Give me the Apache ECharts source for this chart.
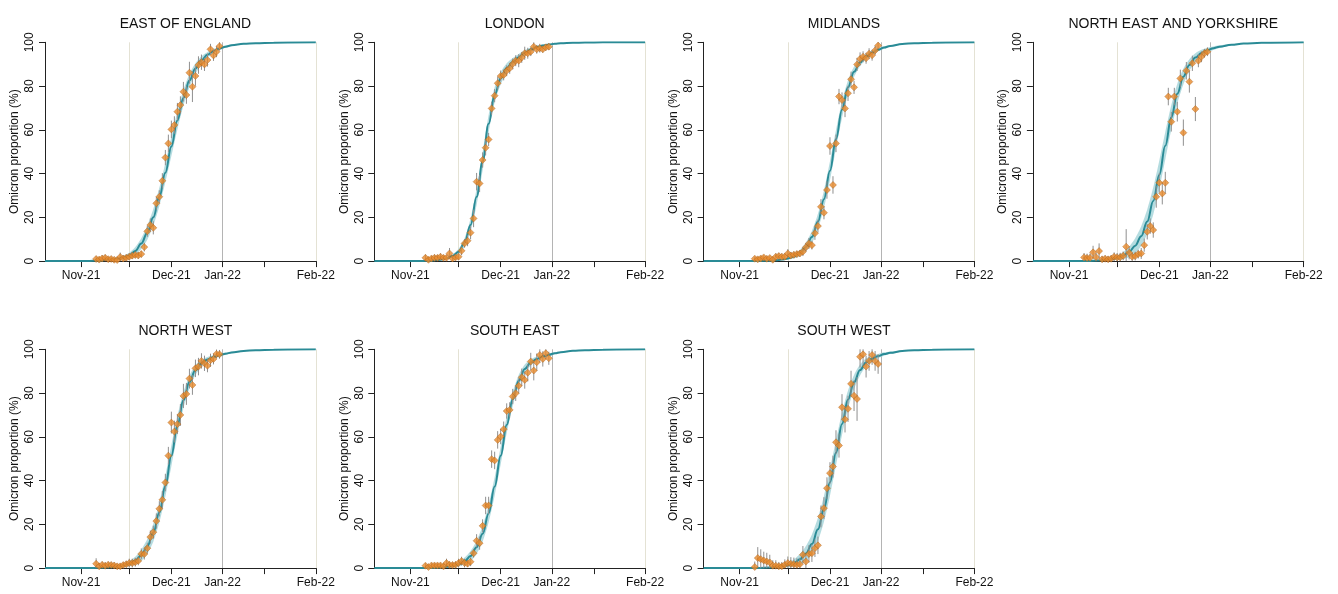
<!DOCTYPE html>
<html>
<head>
<meta charset="utf-8">
<script src="https://cdn.jsdelivr.net/npm/echarts@6/dist/echarts.min.js"></script>
<style>
  html, body { margin: 0; padding: 0; background: #ffffff; }
  #chart { width: 1338px; height: 594px; }
</style>
</head>
<body>
<div id="chart"></div>
<script>
// ---- time axis ----
const axisStart = '2021-11-03';
const axisEnd = '2022-02-01';
const tickDates = ['2021-11-15', '2021-12-01', '2021-12-15', '2022-01-01', '2022-01-15', '2022-02-01'];
const labelDates = ['2021-11-15', '2021-12-15', '2022-01-01', '2022-02-01'];
const tickLabels = ['Nov-21', 'Dec-21', 'Jan-22', 'Feb-22'];
const refLineDates = ['2021-12-01', '2022-01-01', '2022-02-01'];

// ---- daily observed Omicron proportion (%), first value on obsStart ----
const obsStart = '2021-11-20';
const regionNames = ['EAST OF ENGLAND', 'LONDON', 'MIDLANDS', 'NORTH EAST AND YORKSHIRE', 'NORTH WEST', 'SOUTH EAST', 'SOUTH WEST'];

const eastOfEnglandObs = [1.0, 0.7, 1.2, 1.5, 0.9, 1.0, 0.6, 0.5, 1.9, 1.2, 1.5, 2.0, 2.5, 2.8, 2.6, 3.2, 6.4, 13.6, 16.5, 15.2, 26.4, 29.4, 36.7, 47.3, 53.8, 60.2, 62.2, 68.3, 71.3, 77.4, 75.9, 86.1, 79.7, 84.6, 89.6, 90.9, 89.9, 91.9, 96.8, 94.0, 95.7, 98.2];
const londonObs = [1.5, 0.6, 1.2, 1.5, 1.5, 2.0, 1.5, 1.5, 3.5, 1.2, 1.7, 2.0, 4.7, 8.1, 9.3, 13.0, 19.5, 36.3, 35.5, 46.2, 51.8, 55.6, 69.8, 75.6, 81.3, 84.6, 85.1, 87.0, 88.1, 90.1, 91.6, 91.6, 93.1, 95.0, 95.0, 95.7, 98.0, 96.8, 97.3, 96.8, 97.7, 98.0];
const midlandsObs = [1.1, 0.8, 1.2, 1.7, 1.1, 1.4, 0.6, 2.0, 2.3, 2.0, 2.0, 3.5, 2.6, 2.9, 3.2, 3.5, 4.3, 6.3, 8.1, 7.3, 12.7, 16.0, 24.8, 22.1, 32.5, 52.6, 34.8, 53.8, 75.2, 73.6, 69.8, 76.7, 83.1, 79.4, 89.9, 92.4, 93.4, 92.7, 94.8, 94.1, 96.3, 98.5];
const northEastYorkshireObs = [1.7, 1.4, 1.5, 4.0, 1.8, 4.6, 0.8, 1.1, 0.8, 1.1, 2.0, 1.7, 1.8, 2.4, 6.6, 3.8, 2.0, 2.3, 3.2, 3.5, 7.3, 13.4, 16.0, 14.2, 29.4, 35.8, 30.9, 35.8, 75.2, 63.7, 75.2, 68.3, 83.5, 58.7, 87.0, 82.0, 90.4, 69.5, 91.6, 93.4, 95.0, 95.7];
const northWestObs = [2.0, 0.8, 1.5, 1.1, 1.5, 1.4, 1.2, 0.8, 0.8, 1.4, 1.8, 2.3, 2.3, 2.7, 3.3, 6.5, 6.4, 9.1, 14.2, 16.4, 21.5, 27.1, 31.2, 39.1, 51.4, 66.5, 62.4, 65.8, 70.0, 78.7, 79.6, 86.6, 83.7, 91.3, 92.1, 94.7, 93.6, 92.5, 95.0, 95.6, 97.9, 97.7];
const southEastObs = [1.1, 0.5, 1.2, 1.2, 1.2, 1.2, 0.8, 2.3, 1.5, 1.4, 1.5, 2.3, 3.2, 2.3, 2.0, 2.9, 6.8, 12.5, 11.4, 19.3, 28.6, 28.6, 49.8, 49.2, 58.6, 60.1, 63.5, 71.8, 72.3, 78.4, 79.9, 83.3, 87.2, 86.0, 89.3, 94.4, 90.3, 94.1, 97.4, 95.6, 98.2, 95.9];
const southWestObs = [0.5, 4.6, 4.1, 3.5, 3.0, 2.6, 1.1, 1.1, 0.8, 0.8, 1.5, 2.3, 2.0, 1.8, 1.5, 1.8, 6.1, 3.0, 6.5, 6.8, 9.1, 10.4, 23.6, 27.4, 36.5, 43.4, 46.4, 57.5, 56.0, 73.5, 68.0, 72.8, 84.2, 78.8, 77.3, 96.6, 97.7, 92.1, 94.7, 97.4, 94.7, 93.3];

// ---- 95% interval half-widths of the daily observations (percentage points) ----
const eastOfEnglandErr = [1.2, 1, 1.5, 1.5, 1.2, 1.2, 1, 1, 2, 1.5, 1.5, 1.5, 1.5, 1.5, 1.5, 1.5, 2, 2.5, 3, 3, 3, 3, 3.5, 3.5, 4, 4, 4, 4, 4, 4.5, 4, 5, 7, 4.5, 4, 3.5, 3, 3, 2.5, 2.5, 2.5, 2];
const londonErr = [1.5, 1, 1.2, 1.5, 1.2, 1.5, 1.2, 1.2, 2.5, 1.2, 1.2, 1.5, 2, 2, 2.5, 3, 4, 4, 4, 3.5, 3.5, 3, 3, 3, 3, 2.5, 2.5, 2.5, 2.5, 2.5, 2.5, 3, 2.5, 3, 2.5, 2, 2, 2, 2, 1.5, 1.5, 1.5];
const midlandsErr = [1, 1, 1, 1, 1, 1, 1, 1.5, 1.5, 1.5, 1.5, 2, 1.5, 1.5, 1.5, 1.5, 2, 2, 2.5, 2, 3, 3, 3.5, 3, 4, 4, 4, 4, 3.5, 3.5, 4, 3.5, 3.5, 3, 3, 3, 2.5, 2.5, 2.5, 2.5, 2, 1.5];
const northEastYorkshireErr = [2, 2, 2, 3, 2, 3.5, 1.5, 1.5, 1.5, 1.5, 2, 2, 2, 2, 8, 3, 2, 2, 2, 2.5, 3, 3.5, 3.5, 3.5, 5, 4.5, 5, 5, 4, 4.5, 4, 4.5, 4, 6, 4, 5, 3.5, 5.5, 3, 2.5, 2, 2];
const northWestErr = [2.5, 1.5, 1.5, 1.5, 1.5, 1.5, 1.5, 1.2, 1.2, 1.2, 1.5, 2, 2, 2, 2, 2.5, 2.5, 2.5, 3, 3, 3.5, 3.5, 4, 4, 4, 5, 5, 4.5, 5, 5.5, 5, 4.5, 4.5, 4, 4, 3.5, 3.5, 3, 3, 2.5, 2, 2];
const southEastErr = [1.2, 1, 1.2, 1.2, 1.2, 1.2, 1, 2, 1.5, 1.5, 1.5, 2, 2, 2, 1.5, 2, 2, 3, 3, 3, 4, 4, 4, 4, 4, 3.5, 3.5, 3.5, 3.5, 3.5, 3.5, 3.5, 4, 4, 4, 4, 4.5, 4, 3.5, 3.5, 2.5, 3];
const southWestErr = [2.5, 5, 4.5, 4, 4, 3.5, 2.5, 2.5, 2, 2, 2.5, 3, 3, 3, 3, 3, 4, 3, 4, 4, 4, 4, 5, 5, 5, 5, 5, 5.5, 5.5, 6, 6, 6, 6, 7, 10, 5, 5, 5, 4.5, 4.5, 4.5, 4.5];

// ---- fitted growth curve (%), at fitDays = days after axisStart ----
const fitDays = [0, 8, 14, 18, 22, 24, 26, 28, 30, 32, 34, 36, 38, 40, 42, 44, 46, 48, 50, 52, 54, 56, 58, 60, 62, 66, 70, 76, 90];
const eastOfEnglandFit = [0, 0, 0.1, 0.3, 0.8, 1.1, 1.6, 2.6, 4.6, 8.0, 13.0, 20.0, 29.3, 40.4, 52.4, 64.3, 74.6, 82.5, 88.0, 91.8, 94.3, 96.0, 97.2, 98.0, 98.6, 99.3, 99.6, 99.85, 100];
const londonFit = [0, 0, 0, 0.15, 0.6, 1.2, 2.3, 4.3, 8.5, 16.5, 29.4, 45.6, 62.8, 76.0, 83.5, 88.2, 91.0, 93.2, 95.2, 96.7, 97.8, 98.5, 99.0, 99.35, 99.6, 99.8, 99.9, 100, 100];
const midlandsFit = [0, 0, 0, 0.07, 0.2, 0.4, 0.7, 1.2, 2.1, 3.7, 6.5, 11.0, 18.1, 28.3, 41.3, 55.7, 69.2, 79.5, 86.5, 90.8, 93.5, 95.3, 96.6, 97.6, 98.3, 99.2, 99.6, 99.85, 100];
const northEastYorkshireFit = [0, 0, 0.03, 0.1, 0.3, 0.5, 0.9, 1.5, 2.5, 4.2, 7.0, 11.4, 18.1, 27.5, 39.4, 52.7, 65.7, 76.5, 84.3, 89.6, 93.0, 95.1, 96.4, 97.3, 98.0, 98.9, 99.4, 99.8, 100];
const northWestFit = [0, 0, 0.04, 0.12, 0.37, 0.64, 1.1, 2.0, 3.4, 5.9, 9.9, 16.2, 25.4, 37.5, 51.4, 65.1, 76.7, 85.0, 90.5, 93.6, 95.3, 96.5, 97.3, 98.0, 98.5, 99.2, 99.6, 99.85, 100];
const southEastFit = [0, 0, 0.03, 0.1, 0.32, 0.57, 1.0, 1.8, 3.2, 5.5, 9.5, 15.7, 25.0, 37.3, 51.4, 65.4, 77.2, 85.6, 91.0, 94.0, 95.6, 96.7, 97.5, 98.2, 98.7, 99.3, 99.6, 99.85, 100];
const southWestFit = [0, 0, 0.03, 0.09, 0.26, 0.45, 0.8, 1.35, 2.3, 4.0, 6.7, 11.0, 17.7, 27.1, 39.2, 52.7, 65.9, 77.0, 85.0, 90.5, 94.0, 95.7, 96.9, 97.8, 98.4, 99.2, 99.6, 99.85, 100];

// ---- credible band half-widths of the fitted curve, at fitDays ----
const eastOfEnglandBand = [0, 0, 0, 0.1, 0.3, 0.5, 0.8, 1.2, 1.8, 2.5, 3.2, 3.8, 4.2, 4.4, 4.4, 4.1, 3.6, 3.0, 2.4, 1.8, 1.3, 1.0, 0.7, 0.5, 0.35, 0.2, 0.1, 0, 0];
const londonBand = [0, 0, 0, 0.05, 0.2, 0.4, 0.7, 1.2, 2.0, 3.0, 3.8, 4.2, 4.0, 3.4, 2.8, 2.2, 1.8, 1.5, 1.2, 0.9, 0.7, 0.5, 0.35, 0.25, 0.15, 0.1, 0.05, 0, 0];
const midlandsBand = [0, 0, 0, 0, 0.1, 0.2, 0.35, 0.6, 0.9, 1.4, 2.0, 2.8, 3.5, 4.0, 4.3, 4.2, 3.8, 3.1, 2.4, 1.8, 1.3, 1.0, 0.7, 0.5, 0.35, 0.2, 0.1, 0, 0];
const northEastYorkshireBand = [0, 0, 0, 0.05, 0.2, 0.35, 0.6, 1.0, 1.6, 2.4, 3.4, 4.5, 5.5, 6.2, 6.5, 6.3, 5.6, 4.6, 3.6, 2.7, 2.0, 1.5, 1.1, 0.8, 0.6, 0.3, 0.15, 0.05, 0];
const northWestBand = [0, 0, 0, 0.1, 0.3, 0.5, 0.8, 1.2, 1.8, 2.6, 3.4, 4.1, 4.6, 4.8, 4.8, 4.4, 3.7, 2.9, 2.2, 1.6, 1.2, 0.9, 0.7, 0.5, 0.35, 0.2, 0.1, 0, 0];
const southEastBand = [0, 0, 0, 0.1, 0.25, 0.4, 0.7, 1.1, 1.6, 2.3, 3.0, 3.6, 4.0, 4.2, 4.1, 3.8, 3.2, 2.6, 2.0, 1.5, 1.1, 0.8, 0.6, 0.45, 0.3, 0.15, 0.1, 0, 0];
const southWestBand = [0, 0, 0, 0.05, 0.2, 0.35, 0.6, 1.0, 1.6, 2.4, 3.4, 4.4, 5.3, 5.9, 6.1, 5.8, 5.1, 4.2, 3.3, 2.5, 1.9, 1.4, 1.0, 0.8, 0.6, 0.3, 0.15, 0.05, 0];

const regionObs = [eastOfEnglandObs, londonObs, midlandsObs, northEastYorkshireObs, northWestObs, southEastObs, southWestObs];
const regionErr = [eastOfEnglandErr, londonErr, midlandsErr, northEastYorkshireErr, northWestErr, southEastErr, southWestErr];
const regionFit = [eastOfEnglandFit, londonFit, midlandsFit, northEastYorkshireFit, northWestFit, southEastFit, southWestFit];
const regionBand = [eastOfEnglandBand, londonBand, midlandsBand, northEastYorkshireBand, northWestBand, southEastBand, southWestBand];

// ---- helpers ----
function dayNumber(s) {
  const [y, m, d] = s.split('-').map(Number);
  return Date.UTC(y, m - 1, d) / 86400000;
}
const day0 = dayNumber(axisStart);
const daysSinceStart = s => dayNumber(s) - day0;
const axisMax = daysSinceStart(axisEnd);
const tickDays = tickDates.map(daysSinceStart);
const labelDays = labelDates.map(daysSinceStart);
const refDays = refLineDates.map(daysSinceStart);
const obsDay0 = daysSinceStart(obsStart);

// ---- panel layout ----
const FONT = 'Arial, "Liberation Sans", sans-serif';
const colLeft = [45, 374.3, 703.6, 1032.9];
const rowTop = [42.3, 349.3];
const plotW = 270.8, plotH = 218.8;

const TEAL = '#2a8b96';
const BAND = '#a3d3d8';
const ORANGE = '#e8892b';

const grids = [], xAxes = [], yAxes = [], titles = [], series = [];

regionNames.forEach((name, i) => {
  const left = colLeft[i % 4];
  const top = rowTop[Math.floor(i / 4)];
  grids.push({ left: left, top: top, width: plotW, height: plotH, containLabel: false });

  titles.push({
    text: name,
    left: left + plotW / 2,
    top: top - 30,
    textAlign: 'center',
    textStyle: { fontFamily: FONT, fontSize: 14, fontWeight: 'normal', color: '#111' }
  });

  xAxes.push({
    type: 'value', gridIndex: i, min: 0, max: axisMax,
    axisLine: { show: true, onZero: false, lineStyle: { color: '#222', width: 1 } },
    axisTick: { show: true, customValues: tickDays, length: 6, lineStyle: { color: '#222' } },
    axisLabel: {
      customValues: labelDays,
      formatter: v => tickLabels[labelDays.indexOf(v)] || '',
      fontFamily: FONT, fontSize: 12, color: '#111', margin: 9
    },
    splitLine: { show: false }
  });

  yAxes.push({
    type: 'value', gridIndex: i, min: 0, max: 100, interval: 20,
    name: 'Omicron proportion (%)', nameLocation: 'middle', nameGap: 24,
    nameTextStyle: { fontFamily: FONT, fontSize: 12, color: '#111' },
    axisLine: { show: true, lineStyle: { color: '#222', width: 1 } },
    axisTick: { show: true, length: 6, lineStyle: { color: '#222' } },
    axisLabel: { rotate: 90, fontFamily: FONT, fontSize: 12, color: '#111', margin: 9 },
    splitLine: { show: false }
  });

  const fit = regionFit[i], band = regionBand[i];
  const upperEdge = fitDays.map((d, k) => [d, Math.min(100, fit[k] + band[k])]);
  const lowerEdge = fitDays.map((d, k) => [d, Math.max(0, fit[k] - band[k])]);

  // credible band of the fitted curve, drawn as one closed outline
  series.push({
    type: 'custom', xAxisIndex: i, yAxisIndex: i, silent: true, z: 1,
    data: [[fitDays[0], 0]],
    encode: { x: 0, y: 1 },
    renderItem: (params, api) => {
      const pts = upperEdge.map(p => api.coord(p))
        .concat(lowerEdge.slice().reverse().map(p => api.coord(p)));
      return { type: 'polygon', shape: { points: pts, smooth: 0.25 },
               style: { fill: BAND, opacity: 0.8 } };
    }
  });

  // fitted curve, with the month reference lines
  series.push({
    type: 'line', xAxisIndex: i, yAxisIndex: i,
    data: fitDays.map((d, k) => [d, fit[k]]), symbol: 'none', smooth: 0.4, smoothMonotone: 'x',
    lineStyle: { color: TEAL, width: 2 }, silent: true, z: 2,
    markLine: {
      silent: true, symbol: 'none', label: { show: false }, z: 0,
      data: [
        { xAxis: refDays[0], lineStyle: { color: '#e4e2d4', width: 1, type: 'solid' } },
        { xAxis: refDays[1], lineStyle: { color: '#b4b4b4', width: 1, type: 'solid' } },
        { xAxis: refDays[2], lineStyle: { color: '#e4e2d4', width: 1, type: 'solid' } }
      ]
    }
  });

  const obs = regionObs[i], err = regionErr[i];
  // interval bars
  series.push({
    type: 'custom', xAxisIndex: i, yAxisIndex: i, silent: true, z: 3,
    data: obs.map((v, k) => [obsDay0 + k, Math.max(0, v - err[k]), Math.min(100, v + err[k])]),
    encode: { x: 0, y: [1, 2] },
    renderItem: (params, api) => {
      const a = api.coord([api.value(0), api.value(1)]);
      const b = api.coord([api.value(0), api.value(2)]);
      return { type: 'line', shape: { x1: a[0], y1: a[1], x2: b[0], y2: b[1] },
               style: { stroke: '#8f8f8f', lineWidth: 1 } };
    }
  });
  // daily observations
  series.push({
    type: 'scatter', xAxisIndex: i, yAxisIndex: i, z: 4,
    data: obs.map((v, k) => [obsDay0 + k, v]),
    symbol: 'diamond', symbolSize: 7,
    itemStyle: { color: ORANGE, borderColor: '#a65f1c', borderWidth: 0.5 }
  });
});

const chart = echarts.init(document.getElementById('chart'), null, { renderer: 'canvas' });
chart.setOption({
  backgroundColor: '#ffffff',
  animation: false,
  textStyle: { fontFamily: FONT },
  title: titles,
  grid: grids,
  xAxis: xAxes,
  yAxis: yAxes,
  series: series
});
</script>
</body>
</html>
